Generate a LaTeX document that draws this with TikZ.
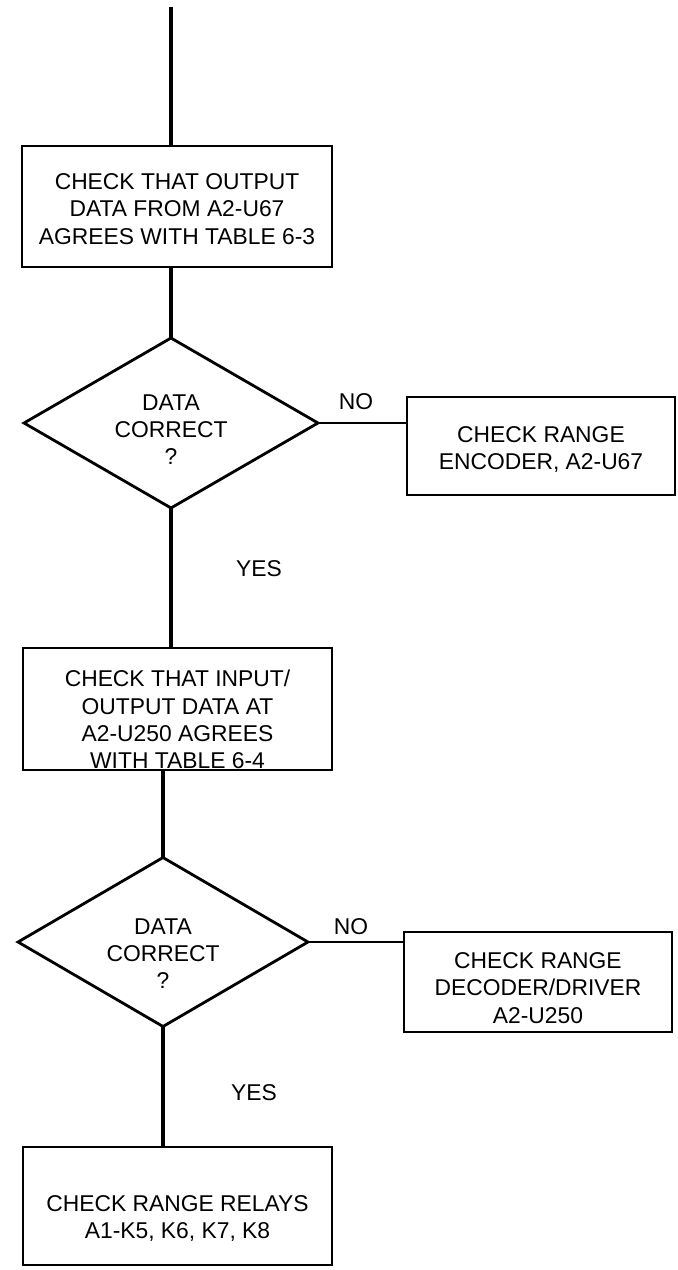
\documentclass[tikz,border=0pt]{standalone}
\usepackage{fontspec}
\setmainfont{Liberation Sans}
\usetikzlibrary{shapes.geometric}

% text of a box, lowered by #1, taking no height of its own
\newcommand{\lowertext}[2]{\raisebox{-#1}[0pt][0pt]{\begin{tabular}{@{}c@{}}#2\end{tabular}}}

\begin{document}
\begin{tikzpicture}[x=0.02cm, y=-0.02cm,
    every node/.style={font=\fontsize{13}{15.5}\selectfont},
    stepbox/.style={draw, line width=1.4pt, inner sep=0pt, outer sep=0pt},
    decision/.style={diamond, draw, line width=1.6pt, inner sep=0pt, outer sep=0pt,
        minimum width=5.88cm, minimum height=3.4cm},
    flow/.style={line width=2pt},
    branch/.style={line width=1.1pt}]
    \useasboundingbox (0,0) rectangle (677,1270);

    % Draw the check boxes
    \node[stepbox, minimum width=6.2cm, minimum height=2.42cm] (chkout) at (177,206.5)
        {\lowertext{5.8pt}{CHECK THAT OUTPUT\\DATA FROM A2-U67\\AGREES WITH TABLE 6-3}};
    \node[stepbox, minimum width=5.36cm, minimum height=1.96cm] (chkenc) at (541,446)
        {\lowertext{5.6pt}{CHECK RANGE\\ENCODER, A2-U67}};
    \node[stepbox, minimum width=6.18cm, minimum height=2.44cm] (chkio) at (177.5,709)
        {\lowertext{10.5pt}{CHECK THAT INPUT/\\OUTPUT DATA AT\\A2-U250 AGREES\\WITH TABLE 6-4}};
    \node[stepbox, minimum width=5.36cm, minimum height=2cm] (chkdec) at (538,982)
        {\lowertext{7.8pt}{CHECK RANGE\\DECODER/DRIVER\\A2-U250}};
    \node[stepbox, minimum width=6.18cm, minimum height=2.36cm] (chkrly) at (177.5,1206)
        {\lowertext{10.5pt}{CHECK RANGE RELAYS\\A1-K5, K6, K7, K8}};

    % Draw the decisions
    \node[decision] (datok1) at (171,423) {\lowertext{8.2pt}{DATA\\CORRECT\\?}};
    \node[decision, minimum width=5.8cm, minimum height=3.38cm] (datok2) at (163,942)
        {\lowertext{11pt}{DATA\\CORRECT\\?}};

    % Entry line
    \coordinate (entry) at (171,7);
    \draw[flow] (entry) -- (entry |- chkout.north);

    % Main flow
    \draw[flow] (datok1.north |- chkout.south) -- (datok1.north);
    \draw[flow] (datok1.south) -- (datok1.south |- chkio.north);
    \draw[flow] (datok2.north |- chkio.south) -- (datok2.north);
    \draw[flow] (datok2.south) -- (datok2.south |- chkrly.north);

    % NO branches
    \draw[branch] (datok1.east) -- (datok1.east -| chkenc.west);
    \draw[branch] (datok2.east) -- (datok2.east -| chkdec.west);

    % Annotations
    \node (no1) at (356,402) {NO};
    \node (yes1) at (259,569) {YES};
    \node (no2) at (351,927) {NO};
    \node (yes2) at (254,1093) {YES};
\end{tikzpicture}
\end{document}
